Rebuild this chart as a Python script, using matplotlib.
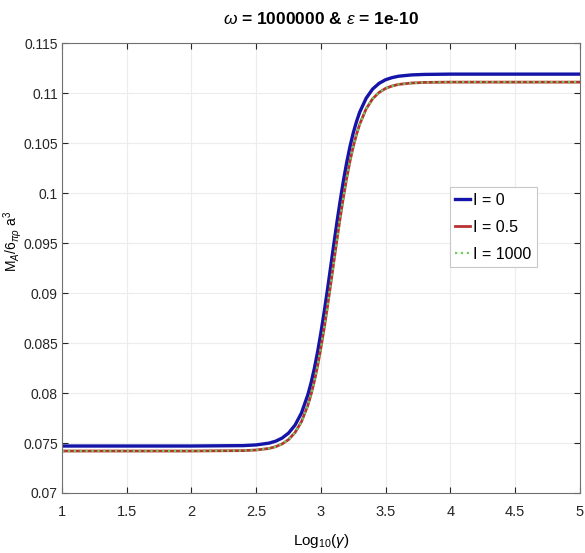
import matplotlib
matplotlib.use("Agg")
import matplotlib.pyplot as plt

# values
log_gamma = [1.0, 2.0, 2.4, 2.5, 2.6, 2.65, 2.7, 2.75, 2.8, 2.85, 2.9, 2.925,
             2.95, 2.975, 3.0, 3.025, 3.05, 3.075, 3.1, 3.125, 3.15, 3.175,
             3.2, 3.225, 3.25, 3.275, 3.3, 3.35, 3.4, 3.45, 3.5, 3.55, 3.6,
             3.7, 3.8, 4.0, 5.0]
m_i0 = [0.0747, 0.0747, 0.07474, 0.07481, 0.07499, 0.07518, 0.07549, 0.07599,
        0.07678, 0.07800, 0.07985, 0.08105, 0.08248, 0.08413, 0.08601, 0.08805,
        0.09025, 0.09256, 0.09488, 0.09715, 0.09929, 0.10130, 0.10309, 0.10466,
        0.10601, 0.10714, 0.10810, 0.10949, 0.11041, 0.11098, 0.11134, 0.11155,
        0.11169, 0.11182, 0.11187, 0.1119, 0.1119]
m_i05 = [0.0742, 0.0742, 0.07424, 0.07430, 0.07446, 0.07463, 0.07490, 0.07534,
         0.07604, 0.07713, 0.07879, 0.07990, 0.08121, 0.08274, 0.08450, 0.08644,
         0.08856, 0.09081, 0.09311, 0.09540, 0.09760, 0.09966, 0.10154, 0.10320,
         0.10464, 0.10586, 0.10689, 0.10843, 0.10944, 0.11007, 0.11047, 0.11071,
         0.11087, 0.11101, 0.11107, 0.1111, 0.1111]
m_i1000 = [0.0742, 0.0742, 0.07424, 0.07430, 0.07446, 0.07463, 0.07490, 0.07534,
           0.07604, 0.07713, 0.07879, 0.07990, 0.08121, 0.08274, 0.08450, 0.08644,
           0.08856, 0.09081, 0.09311, 0.09540, 0.09760, 0.09966, 0.10154, 0.10320,
           0.10464, 0.10586, 0.10689, 0.10843, 0.10944, 0.11007, 0.11047, 0.11071,
           0.11087, 0.11101, 0.11107, 0.1111, 0.1111]
series_labels = ["I = 0", "I = 0.5", "I = 1000"]

x_ticks = [1, 1.5, 2, 2.5, 3, 3.5, 4, 4.5, 5]
x_ticklabels = ["1", "1.5", "2", "2.5", "3", "3.5", "4", "4.5", "5"]
y_ticks = [0.07, 0.075, 0.08, 0.085, 0.09, 0.095, 0.1, 0.105, 0.11, 0.115]
y_ticklabels = ["0.07", "0.075", "0.08", "0.085", "0.09", "0.095", "0.1",
                "0.105", "0.11", "0.115"]

plt.rcParams["font.family"] = ["Liberation Sans", "DejaVu Sans"]
plt.rcParams["mathtext.fontset"] = "custom"
plt.rcParams["mathtext.rm"] = "Liberation Sans"
plt.rcParams["mathtext.it"] = "Liberation Sans:italic"

fig = plt.figure(figsize=(5.85, 5.53), dpi=100)
ax = fig.add_axes([0.106, 0.1085, 0.885, 0.8135])

ax.plot(log_gamma, m_i0, color="#1414a8", lw=2.4, label=series_labels[0])
ax.plot(log_gamma, m_i05, color="#b83232", lw=2.0, label=series_labels[1])
ax.plot(log_gamma, m_i1000, color="#6ccf5a", lw=1.6, ls=":", label=series_labels[2])

ax.set_xlim(1, 5)
ax.set_ylim(0.07, 0.115)
ax.set_xticks(x_ticks)
ax.set_xticklabels(x_ticklabels)
ax.set_yticks(y_ticks)
ax.set_yticklabels(y_ticklabels)
ax.tick_params(direction="in", top=True, right=True, labelsize=10.5,
               colors="#262626", length=4, pad=4)
ax.tick_params(axis="x", pad=9)
ax.tick_params(axis="y", labelsize=10, pad=3)
ax.grid(True, color="#ececec", lw=0.8)
for s in ax.spines.values():
    s.set_color("#707070")

ax.set_title(r"$\omega$ = 1000000 & $\epsilon$ = 1e-10", fontsize=12.5,
             fontweight="bold", pad=14)
ax.set_xlabel(r"Log$_{10}$($\gamma$)", fontsize=11, labelpad=9)
ax.set_ylabel(r"M$_A$/6$_{\pi\rho}$ a$^3$", fontsize=10)
ax.yaxis.set_label_coords(-0.074, 0.56)

leg = ax.legend(loc="upper left", bbox_to_anchor=(0.749, 0.68), fontsize=11.5,
                handlelength=0.9, handletextpad=0.2, borderpad=0.35,
                labelspacing=0.75, fancybox=False, framealpha=1, borderaxespad=0)
leg.get_frame().set_edgecolor("#c8c8c8")
leg.get_frame().set_linewidth(0.8)

fig.savefig("out.png", dpi=100)
